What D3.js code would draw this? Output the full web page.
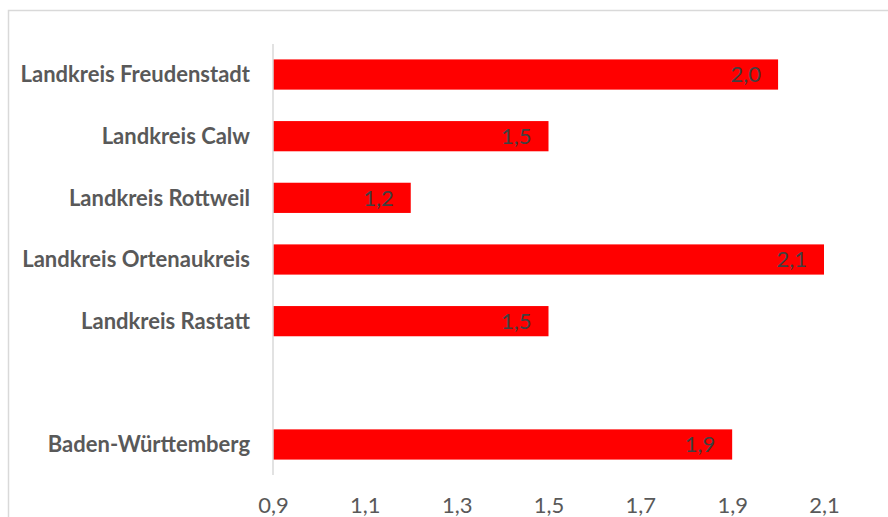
<!DOCTYPE html>
<html>
<head>
<meta charset="utf-8">
<script src="https://cdn.jsdelivr.net/npm/d3@7"></script>
<style>
  body { margin: 0; background: #fff; }
  svg { display: block; }
</style>
</head>
<body>
<div id="chart"></div>
<script>
// categories, top to bottom; the empty one is the gap row
var categories = ['Landkreis Freudenstadt', 'Landkreis Calw', 'Landkreis Rottweil',
  'Landkreis Ortenaukreis', 'Landkreis Rastatt', '', 'Baden-Württemberg']
var values = [2.0, 1.5, 1.2, 2.1, 1.5, null, 1.9]
var tickValues = [0.9, 1.1, 1.3, 1.5, 1.7, 1.9, 2.1]

var width = 888
var height = 517
var margin = { top: 44, left: 273, right: 64, bottom: 42 }
var fontFamily = 'Lato, "Open Sans", sans-serif'

var fmt = function (v) { return d3.format('.1f')(v).replace('.', ',') }

var svg = d3.select('#chart')
  .append('svg')
  .attr('width', width)
  .attr('height', height)

// chart area border (cut off on the right and bottom)
svg.append('rect')
  .attr('x', 8.5)
  .attr('y', 10.5)
  .attr('width', width)
  .attr('height', height)
  .attr('fill', 'none')
  .attr('stroke', '#d9d9d9')
  .attr('stroke-width', 1.5)

var x = d3.scaleLinear()
  .domain([0.9, 2.1])
  .range([margin.left, width - margin.right])

var y = d3.scaleBand()
  .domain(categories.map(function (d, i) { return i }))
  .range([margin.top, height - margin.bottom])
  .paddingInner(0.51)
  .paddingOuter(0.25)

var rows = categories.map(function (c, i) { return { name: c, value: values[i], i: i } })

svg.append('g')
  .selectAll('rect')
  .data(rows.filter(function (d) { return d.value !== null }))
  .enter().append('rect')
  .attr('x', x(0.9))
  .attr('y', function (d) { return y(d.i) })
  .attr('width', function (d) { return x(d.value) - x(0.9) })
  .attr('height', y.bandwidth())
  .attr('fill', '#ff0000')

// vertical category axis line
svg.append('line')
  .attr('x1', x(0.9))
  .attr('x2', x(0.9))
  .attr('y1', margin.top)
  .attr('y2', height - margin.bottom)
  .attr('stroke', '#d9d9d9')
  .attr('stroke-width', 1.5)

// category labels
svg.append('g')
  .selectAll('text')
  .data(rows)
  .enter().append('text')
  .attr('x', x(0.9) - 23)
  .attr('y', function (d) { return y(d.i) + y.bandwidth() / 2 })
  .attr('dy', '0.35em')
  .attr('text-anchor', 'end')
  .attr('font-family', fontFamily)
  .attr('font-weight', 'bold')
  .attr('font-size', 22)
  .attr('fill', '#595959')
  .text(function (d) { return d.name })

// value labels inside the bar end
svg.append('g')
  .selectAll('text')
  .data(rows.filter(function (d) { return d.value !== null }))
  .enter().append('text')
  .attr('x', function (d) { return x(d.value) - 17 })
  .attr('y', function (d) { return y(d.i) + y.bandwidth() / 2 })
  .attr('dy', '0.35em')
  .attr('text-anchor', 'end')
  .attr('font-family', fontFamily)
  .attr('font-size', 22)
  .attr('fill', '#404040')
  .text(function (d) { return fmt(d.value) })

// x axis labels only
var xAxis = svg.append('g')
  .attr('transform', 'translate(0,' + (height - margin.bottom) + ')')
  .call(d3.axisBottom(x).tickValues(tickValues).tickFormat(fmt).tickSize(0).tickPadding(22))

xAxis.select('.domain').remove()
xAxis.selectAll('text')
  .attr('dy', null)
  .attr('y', 38)
  .attr('font-family', fontFamily)
  .attr('font-size', 22)
  .attr('fill', '#595959')
</script>
</body>
</html>
